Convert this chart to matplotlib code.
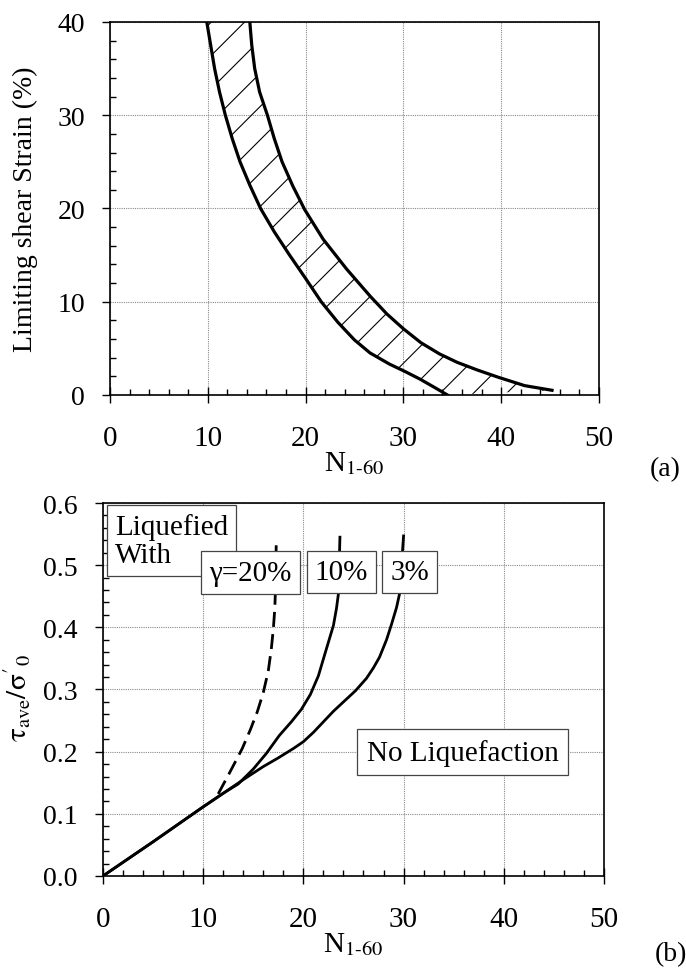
import numpy as np
import matplotlib
matplotlib.use('Agg')
import matplotlib.pyplot as plt
from matplotlib.ticker import MultipleLocator, FormatStrFormatter

# ==========================================
# Data
# ==========================================
# (a) limiting shear strain band: lower (left) and upper (right) boundary
N_lower = [9.9, 10.3, 10.7, 11.2, 11.8, 12.5, 13.3, 14.3, 15.4, 16.8, 18.3, 20.0,
           21.6, 23.3, 25.0, 26.6, 27.6, 28.6, 30.2, 31.7, 33.2, 34.5]
strain_lower = [40, 37.5, 35, 32.5, 30, 27.5, 25, 22.5, 20, 17.5, 15.1, 12.5,
                10.0, 7.8, 5.9, 4.5, 3.9, 3.3, 2.5, 1.7, 0.8, 0]
N_upper = [14.3, 14.5, 14.8, 15.3, 16.1, 16.8, 17.6, 18.7, 19.9, 21.8, 24.2, 26.6,
           28.3, 30.0, 31.8, 33.7, 35.5, 37.5, 39.7, 42.4, 45.2]
strain_upper = [40, 37.5, 35, 32.5, 30, 27.5, 25, 22.4, 19.9, 16.7, 13.5, 10.6,
                8.7, 7.1, 5.6, 4.4, 3.5, 2.7, 1.9, 1.0, 0.5]

# (b) stress ratio curves for limiting strain of 3%, 10% and 20%
N_3 = [0, 5, 9.8, 12.0, 14.1, 16.0, 17.5, 19.0, 20.0, 21.0, 22.0, 23.0, 25.2, 26.3,
       27.0, 27.6, 28.3, 28.8, 29.3, 29.6, 30.0]
tau_3 = [0, 0.055, 0.109, 0.133, 0.156, 0.176, 0.19, 0.205, 0.216, 0.231, 0.248, 0.265,
         0.298, 0.318, 0.335, 0.352, 0.38, 0.405, 0.432, 0.454, 0.547]
N_10 = [0, 5, 9.8, 12.0, 13.5, 15.0, 16.3, 17.6, 18.8, 19.8, 20.7, 21.5, 22.2,
        23.0, 23.3, 23.5, 23.65]
tau_10 = [0, 0.055, 0.109, 0.133, 0.148, 0.172, 0.197, 0.226, 0.248, 0.268, 0.292,
          0.322, 0.36, 0.403, 0.43, 0.454, 0.545]
N_20 = [11.5, 12.7, 13.9, 14.7, 15.4, 16.0, 16.5, 16.8, 17.0, 17.15, 17.2, 17.3]
tau_20 = [0.132, 0.168, 0.205, 0.235, 0.264, 0.295, 0.33, 0.365, 0.397, 0.43, 0.454, 0.541]

# label boxes in (b): text, x, y
box_labels = ['\u03b3=20%', '10%', '3%']
box_x = [14.7, 23.8, 30.6]
box_y = [0.488, 0.489, 0.489]

# ==========================================
# Styling
# ==========================================
plt.rcParams['font.family'] = ['Liberation Serif', 'DejaVu Serif']
plt.rcParams['mathtext.fontset'] = 'stix'
plt.rcParams['hatch.linewidth'] = 0.8

fig = plt.figure(figsize=(6.86, 9.70), dpi=100)
ax1 = fig.add_axes([0.1603, 0.5918, 0.7128, 0.3845])
ax2 = fig.add_axes([0.1501, 0.0959, 0.7303, 0.3845])


def style_axes(ax, ymax, ymajor, yminor):
    ax.set_xlim(0, 50)
    ax.set_ylim(0, ymax)
    ax.xaxis.set_major_locator(MultipleLocator(10))
    ax.xaxis.set_minor_locator(MultipleLocator(2))
    ax.yaxis.set_major_locator(MultipleLocator(ymajor))
    ax.yaxis.set_minor_locator(MultipleLocator(yminor))
    ax.grid(True, which='major', color='#8a8a8a', linestyle=(0, (1, 1)), linewidth=0.8)
    ax.set_axisbelow(True)
    ax.tick_params(axis='x', which='major', direction='inout', length=11, width=1,
                   labelsize=21, pad=16)
    ax.tick_params(axis='x', which='minor', direction='in', length=4.5, width=1)
    ax.tick_params(axis='y', which='major', direction='out', length=6, width=1,
                   labelsize=20, pad=12)
    ax.tick_params(axis='y', which='minor', direction='in', length=4, width=1)
    for s in ax.spines.values():
        s.set_linewidth(1.2)
        s.set_color('black')
    ax.set_xlabel(r'N$_{\mathrm{1\text{-}60}}$', fontsize=21)
    ax.xaxis.set_label_coords(0.5, -0.145)


# ==========================================
# (a) Limiting shear strain
# ==========================================
style_axes(ax1, 40, 10, 2)
poly_N = np.concatenate([N_lower, N_upper[::-1]])
poly_s = np.concatenate([strain_lower, strain_upper[::-1]])
ax1.fill(poly_N, poly_s, facecolor='none', edgecolor='black', hatch='/', linewidth=0, zorder=2)
ax1.plot(N_lower, strain_lower, color='black', linewidth=2.3, zorder=3)
ax1.plot(N_upper, strain_upper, color='black', linewidth=2.3, zorder=3)
ax1.set_ylabel('Limiting shear Strain (%)', fontsize=20)
ax1.yaxis.set_label_coords(-0.148, 0.5)

# ==========================================
# (b) Stress ratio vs N1-60
# ==========================================
style_axes(ax2, 0.6, 0.1, 0.02)
ax2.yaxis.set_major_formatter(FormatStrFormatter('%.1f'))
ax2.plot(N_3, tau_3, color='black', linewidth=2.0, zorder=3)
ax2.plot(N_10, tau_10, color='black', linewidth=2.0, zorder=3)
ax2.plot(N_20, tau_20, color='black', linewidth=2.0, linestyle=(0, (5.4, 2.6)), zorder=3)
ax2.set_ylabel(r"$\mathrm{\tau}_{\mathrm{ave}}/\mathrm{\sigma}'_{0}$", fontsize=21)
ax2.yaxis.set_label_coords(-0.14, 0.48)

box_style = dict(boxstyle='square,pad=0.28', facecolor='white', edgecolor='#444444', linewidth=0.9)
ax2.text(1.2, 0.540, 'Liquefied\nWith', ha='left', va='center', fontsize=21,
         linespacing=1.1, bbox=box_style, zorder=4)
for lab, x, y in zip(box_labels, box_x, box_y):
    ax2.text(x, y, lab, ha='center', va='center', fontsize=21, bbox=box_style, zorder=5)
ax2.text(35.9, 0.199, 'No Liquefaction', ha='center', va='center', fontsize=21,
         bbox=dict(boxstyle='square,pad=0.32', facecolor='white', edgecolor='#444444', linewidth=0.9),
         zorder=5)

fig.text(0.969, 0.5155, '(a)', ha='center', va='center', fontsize=20)
fig.text(0.978, 0.0155, '(b)', ha='center', va='center', fontsize=20)

fig.savefig('out.png', dpi=100)
